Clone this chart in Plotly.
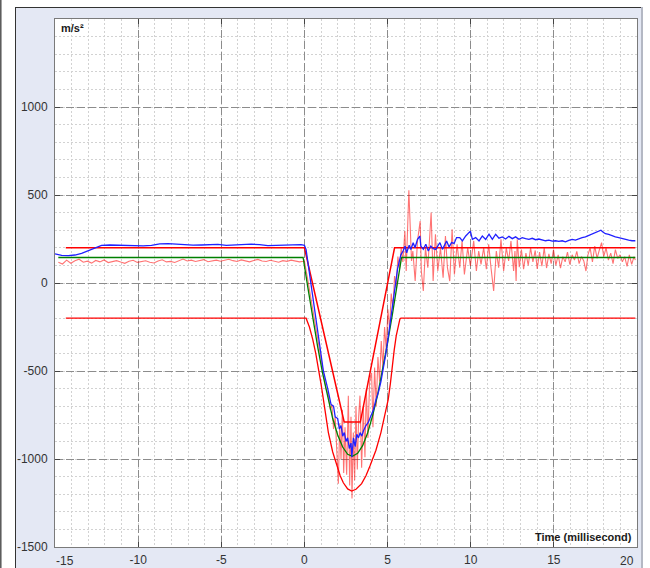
import numpy as np
import plotly.graph_objects as go

# ---------------- data ----------------
# tolerance corridor (upper / lower limit), m/s^2 vs ms
upper_t = [-14.35, 0.0, 2.39, 3.36, 5.42, 19.9]
upper_v = [200, 200, -790, -790, 200, 200]

lower_t = [-14.35, 0.1, 0.3, 0.5, 0.68, 0.84, 1.0, 1.14, 1.3, 1.44, 1.7, 1.94, 2.15, 2.34, 2.6, 2.84, 3.1,
           3.44, 3.7, 3.94, 4.3, 4.6, 4.85, 5.04, 5.17, 5.28, 5.4, 5.52, 5.64, 5.74, 5.8, 19.9]
lower_v = [-200, -200, -250, -320, -400, -480, -575, -661, -760, -850, -960, -1040, -1095, -1135, -1170, -1182, -1172,
           -1140, -1095, -1040, -950, -850, -750, -661, -570, -472, -380, -300, -235, -205, -200, -200]

# nominal (reference) pulse
green_t = [-14.8, -0.08, 0.2, 0.5, 0.8, 1.1, 1.4, 1.7, 2.0, 2.3, 2.6, 2.88, 3.2, 3.5, 3.8, 4.1, 4.4, 4.7, 5.0, 5.3, 5.6, 5.84, 19.9]
green_v = [145, 145, -22, -197, -364, -517, -654, -770, -864, -932, -973, -985, -968, -924, -852, -754, -637, -496, -340, -173, 4, 145, 145]

# measured (blue) signal
blue_t = [-15.0, -14.6, -14.2, -13.8, -13.4, -13.0, -12.6, -12.2, -11.7, -11.2, -10.7, -10.2, -9.7, -9.2, -8.7,
          -8.2, -7.7, -7.2, -6.7, -6.2, -5.7, -5.2, -4.7, -4.2, -3.7, -3.2, -2.7, -2.2, -1.7, -1.2, -0.7, -0.2, 0.0,
          0.1, 0.4, 0.7, 0.9, 1.14, 1.4, 1.6, 1.75, 1.85, 2.0, 2.1, 2.2, 2.3, 2.4, 2.5, 2.6, 2.7, 2.8, 2.85, 2.95,
          3.05, 3.15, 3.25, 3.35, 3.45, 3.55, 3.7, 3.85, 4.0, 4.15, 4.3, 4.45, 4.6, 4.75, 4.9, 5.05, 5.2, 5.35, 5.5,
          5.6, 5.7, 5.8, 5.93, 6.05, 6.15, 6.3, 6.4, 6.54, 6.65, 6.8, 6.94, 7.0, 7.15, 7.3, 7.45, 7.6, 7.75, 7.9,
          8.05, 8.15, 8.3, 8.45, 8.55, 8.7, 8.85, 9.0, 9.15, 9.34, 9.5, 9.7, 9.98, 10.1, 10.3, 10.5, 10.7, 10.9,
          11.1, 11.3, 11.5, 11.7, 11.9, 12.1, 12.3, 12.5, 12.7, 12.9, 13.1, 13.3, 13.5, 13.7, 13.9, 14.1, 14.3,
          14.5, 14.7, 14.9, 15.1, 15.3, 15.5, 15.7, 15.9, 16.1, 16.3, 16.5, 16.7, 16.9, 17.1, 17.3, 17.5, 17.7,
          17.83, 17.95, 18.1, 18.3, 18.5, 18.7, 18.9, 19.1, 19.3, 19.5, 19.7, 19.9]
blue_v = [166, 157, 155, 159, 168, 182, 198, 214, 216, 214, 212, 210, 211, 214, 222,
          224, 220, 218, 215, 216, 219, 220, 214, 216, 218, 221, 218, 212, 214, 216, 214, 218, 214,
          190, -10, -200, -340, -500, -600, -690, -700, -760, -770, -830, -810, -870, -850, -900, -880, -940, -910, -990, -880,
          -930, -860, -880, -850, -870, -840, -810, -790, -750, -720, -665, -620, -560, -490, -400, -300, -190, -90, 20,
          80, 120, 160, 182, 210, 172, 215, 190, 229, 200, 248, 267, 210, 191, 220, 182, 210, 195, 191,
          215, 229, 191, 215, 239, 205, 230, 225, 258, 258, 239, 267, 295, 248, 258, 239, 267, 248,
          277, 248, 277, 255, 262, 250, 265, 252, 262, 248, 258, 252, 248, 254, 246, 250, 244,
          240, 244, 238, 240, 236, 240, 234, 242, 248, 244, 252, 258, 262, 270, 278, 286, 292,
          300, 290, 280, 276, 268, 262, 258, 252, 248, 244, 240, 240]

# measured (noisy red) signal: pre-trigger samples every 0.25 ms from -14.8 ms
red_pre_start = -14.8
red_pre_step = 0.25
red_pre_v = [118, 108, 130, 112, 126, 135, 118, 124, 113, 128, 120, 131, 116, 122, 127, 119, 112, 124, 129, 117,
             121, 126, 118, 114, 125, 132, 120, 123, 117, 128, 136, 125, 130, 122, 127, 133, 121, 126, 130, 124,
             129, 135, 127, 122, 131, 126, 120, 128, 134, 125, 122, 129, 124, 118, 127, 123, 130, 126, 120, 124]
red_t = [0.0, 0.2, 0.4, 0.6, 0.8, 1.0, 1.15, 1.3, 1.45, 1.55, 1.65, 1.75, 1.85, 1.95, 2.04, 2.12, 2.2, 2.28, 2.36,
         2.44, 2.54, 2.64, 2.72, 2.8, 2.86, 2.94, 3.02, 3.1, 3.18, 3.26, 3.34, 3.44, 3.54, 3.64, 3.72, 3.82, 3.92,
         4.04, 4.12, 4.22, 4.32, 4.42, 4.52, 4.62, 4.72, 4.82, 4.92, 5.02, 5.12, 5.22, 5.32, 5.42, 5.52, 5.62, 5.72,
         5.82, 5.92, 6.04, 6.12, 6.28, 6.44, 6.52, 6.66, 6.8, 6.96, 7.03, 7.15, 7.28, 7.42, 7.62, 7.74, 7.88, 8.02,
         8.18, 8.34, 8.48, 8.6, 8.74, 8.88, 9.02, 9.18, 9.34, 9.48, 9.62, 9.82, 9.98, 10.18, 10.34, 10.48, 10.62,
         10.78, 10.94, 11.08, 11.22, 11.38, 11.54, 11.68, 11.82, 11.98, 12.14, 12.28, 12.42, 12.58, 12.66, 12.73,
         12.8, 12.92, 13.05, 13.18, 13.32, 13.46, 13.6, 13.74, 13.88, 14.0, 14.14, 14.28, 14.42, 14.56, 14.7, 14.84,
         14.98, 15.12, 15.26, 15.4, 15.54, 15.68, 15.82, 15.96, 16.1, 16.24, 16.38, 16.52, 16.66, 16.8, 16.93,
         17.05, 17.18, 17.32, 17.46, 17.6, 17.74, 17.87, 18.0, 18.14, 18.28, 18.42, 18.56, 18.7, 18.84, 18.98,
         19.12, 19.26, 19.4, 19.54, 19.68, 19.82, 19.9]
red_v = [125, 20, -90, -220, -330, -420, -500, -600, -640, -720, -690, -830, -760, -980, -1140, -800, -1000, -720, -1080,
         -820, -1090, -640, -1150, -760, -1225, -850, -1120, -700, -1060, -760, -640, -1050, -700, -990, -600, -880, -560,
         -510, -820, -480, -700, -420, -560, -330, -480, -250, -380, -150, -260, -60, -150, 40, -30, 150, 80,
         200, 120, 295, 68, 527, 125, 182, 11, 239, 352, 68, -45, 200, 87, 400, 11, 277, 68,
         200, 30, 267, 87, 11, 305, 49, 220, 87, 239, 49, 200, 97, 239, 68, 182, 106,
         200, 78, 220, 87, -45, 182, 87, 248, 68, 200, 125, 239, 68, 182, 11,
         248, 90, 190, 78, 170, 100, 200, 120, 185, 80, 175, 95, 200, 85, 165, 110,
         190, 100, 160, 85, 150, 120, 175, 105, 160, 130, 180, 110, 150, 125, 68,
         160, 200, 120, 210, 140, 190, 229, 150, 200, 130, 170, 110, 190, 140, 160,
         120, 150, 95, 160, 106, 150, 130]

# tick labels (the two end labels of the x axis are drawn inset, as in the reference)
x_tick_vals = [-15, -10, -5, 0, 5, 10, 15, 20]
x_tick_text = ["", "-10", "-5", "0", "5", "10", "15", ""]
x_end_labels = {-15: "-15", 20: "20"}
y_tick_vals = [-1500, -1000, -500, 0, 500, 1000]
y_tick_text = ["-1500", "-1000", "-500", "0", "500", "1000"]
x_range = [-15, 20]
y_range = [-1500, 1500]

# ---------------- figure ----------------
red_pre_t = red_pre_start + red_pre_step * np.arange(len(red_pre_v))
noisy_t = list(red_pre_t) + red_t
noisy_v = red_pre_v + red_v

fig = go.Figure()
fig.add_trace(go.Scatter(x=noisy_t, y=noisy_v, mode="lines",
                         line=dict(color="rgba(255,0,0,0.55)", width=1.1), hoverinfo="skip"))
fig.add_trace(go.Scatter(x=green_t, y=green_v, mode="lines",
                         line=dict(color="#008000", width=1.3), hoverinfo="skip"))
fig.add_trace(go.Scatter(x=upper_t, y=upper_v, mode="lines",
                         line=dict(color="#ff0000", width=1.5), hoverinfo="skip"))
fig.add_trace(go.Scatter(x=lower_t, y=lower_v, mode="lines",
                         line=dict(color="#ff0000", width=1.3), hoverinfo="skip"))
fig.add_trace(go.Scatter(x=blue_t, y=blue_v, mode="lines",
                         line=dict(color="#2020ff", width=1.3), hoverinfo="skip"))

font_family = "Liberation Sans Narrow, Arial Narrow, Liberation Sans, sans-serif"
tick_font = dict(family=font_family, size=12, color="#333333")
axis_common = dict(
    showgrid=True, gridcolor="#8c8c8c", griddash="8px,3px", gridwidth=1,
    ticks="inside", ticklen=5, tickcolor="#444444", tickwidth=1,
    showline=True, linecolor="#7a7a7a", linewidth=1, mirror="ticks",
    zeroline=False, tickfont=tick_font, tickmode="array", automargin=False,
)
fig.update_xaxes(range=x_range, tickvals=x_tick_vals, ticktext=x_tick_text, ticklabelstandoff=2,
                 minor=dict(tickmode="linear", tick0=0, dtick=1, showgrid=True, gridcolor="#d2d2d2",
                            griddash="2px,2px", ticks=""),
                 **axis_common)
fig.update_yaxes(range=y_range, tickvals=y_tick_vals, ticktext=y_tick_text, ticklabelstandoff=4,
                 minor=dict(tickmode="linear", tick0=0, dtick=100, showgrid=True, gridcolor="#d2d2d2",
                            griddash="2px,2px", ticks=""),
                 **axis_common)

L, R, T, B = 55, 13, 19, 21
W, H = 650, 568
pw, ph = W - L - R, H - T - B


def px(x):
    return (x - L) / pw


def py(y):
    return (H - B - y) / ph


shapes = [
    dict(type="rect", xref="paper", yref="paper", x0=px(-10), x1=px(15), y0=py(600), y1=py(-10),
         fillcolor="white", line=dict(width=0), layer="above"),
    dict(type="rect", xref="paper", yref="paper", x0=px(-10), x1=px(660), y0=py(7), y1=py(-10),
         fillcolor="white", line=dict(width=0), layer="above"),
    dict(type="rect", xref="paper", yref="paper", x0=px(642), x1=px(660), y0=py(600), y1=py(-10),
         fillcolor="white", line=dict(width=0), layer="above"),
    dict(type="line", xref="paper", yref="paper", x0=px(15.5), x1=px(15.5), y0=py(600), y1=py(7),
         line=dict(color="#333333", width=1), layer="above"),
    dict(type="line", xref="paper", yref="paper", x0=px(15), x1=px(642), y0=py(7.5), y1=py(7.5),
         line=dict(color="#333333", width=1), layer="above"),
    dict(type="line", xref="paper", yref="paper", x0=px(642), x1=px(642), y0=py(600), y1=py(7),
         line=dict(color="#b4b8c4", width=2), layer="above"),
    dict(type="line", xref="paper", yref="paper", x0=px(0.8), x1=px(0.8), y0=py(600), y1=py(-10),
         line=dict(color="#555555", width=1.5), layer="above"),
]

label_font = dict(family=font_family, size=11, color="#1a1a1a")
annotations = [
    dict(text="<b>m/s²</b>", xref="paper", yref="paper", x=0, y=1, xanchor="left", yanchor="top",
         xshift=4, yshift=-1, showarrow=False, font=label_font),
    dict(text="<b>Time (millisecond)</b>", xref="paper", yref="paper", x=1, y=0, xanchor="right",
         yanchor="bottom", xshift=-3, yshift=2, showarrow=False, font=label_font),
]
for xv, txt in x_end_labels.items():
    annotations.append(dict(text=txt, xref="x", yref="paper", x=xv, y=0,
                            xanchor="left" if xv < 0 else "right", yanchor="top",
                            xshift=-1, yshift=-5, showarrow=False, font=tick_font))

fig.update_layout(width=W, height=H, margin=dict(l=L, r=R, t=T, b=B),
                  paper_bgcolor="#e4e8f4", plot_bgcolor="white", showlegend=False,
                  shapes=shapes, annotations=annotations)

fig.write_html("out.html")
